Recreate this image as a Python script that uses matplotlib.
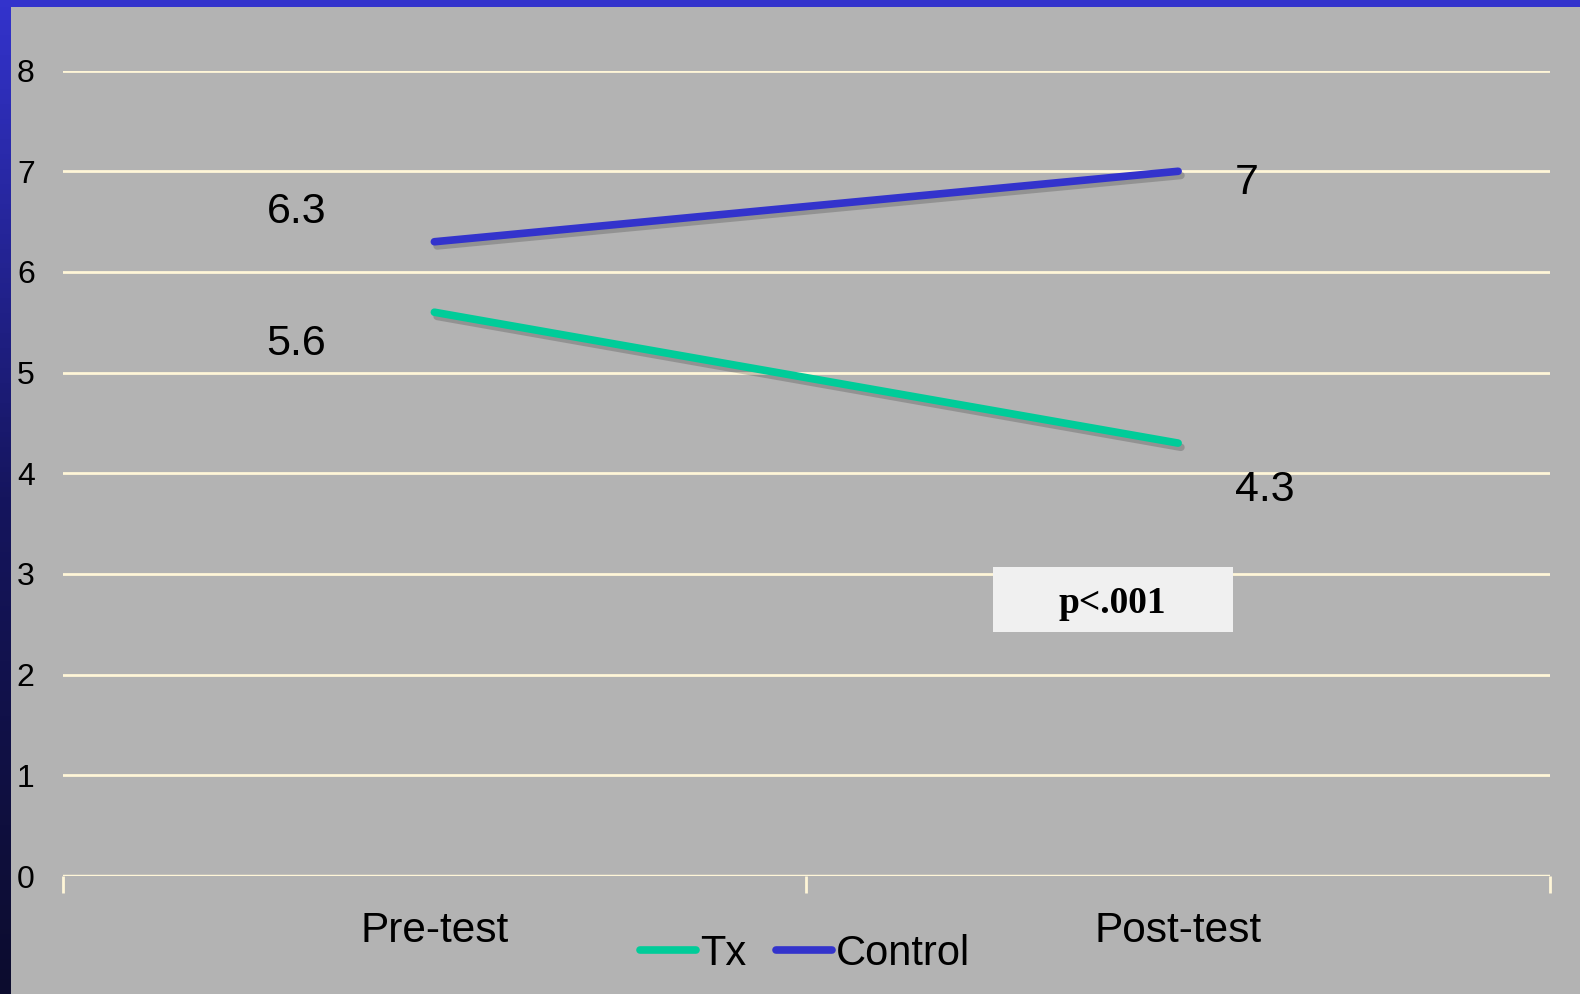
import numpy as np
import matplotlib.pyplot as plt
from matplotlib import patheffects as pe
from matplotlib.patches import Rectangle
from matplotlib.colors import LinearSegmentedColormap

plt.rcParams['font.family'] = ['Liberation Sans', 'DejaVu Sans']

categories = ['Pre-test', 'Post-test']
tx = [5.6, 4.3]
control = [6.3, 7.0]
yticks = [0, 1, 2, 3, 4, 5, 6, 7, 8]

W, H = 1580, 994
fig = plt.figure(figsize=(W / 100, H / 100), dpi=100)
fig.patch.set_facecolor('#b3b3b3')

# borde izquierdo con degradado y borde superior
bar = fig.add_axes([0, 0, 11 / W, 1])
cmap = LinearSegmentedColormap.from_list('borde', ['#0c0c2e', '#15155e', '#3333cc'])
bar.imshow(np.linspace(0, 1, 200).reshape(-1, 1), aspect='auto', cmap=cmap, origin='lower')
bar.axis('off')
top = fig.add_axes([0, 1 - 7 / H, 1, 7 / H])
top.set_facecolor('#3333cc')
top.set_xticks([])
top.set_yticks([])
for s in top.spines.values():
    s.set_visible(False)

y0, y8 = 876, 70.6
ax = fig.add_axes([62.5 / W, 1 - y0 / H, (1550 - 62.5) / W, (y0 - y8) / H])
ax.set_facecolor('#b3b3b3')
for s in ax.spines.values():
    s.set_visible(False)

crema = '#fff6d8'
for v in yticks[1:]:
    ax.axhline(v, color=crema, lw=2, zorder=1)
ax.axhline(0, color=crema, lw=2.5, zorder=1)

x = np.arange(len(categories))
sombra = [pe.SimpleLineShadow(offset=(2, -3), alpha=0.22, shadow_color='#202020'), pe.Normal()]
ax.plot(x, tx, color='#00cc99', lw=5.5, solid_capstyle='round', label='Tx', path_effects=sombra, zorder=3)
ax.plot(x, control, color='#3333cc', lw=5.5, solid_capstyle='round', label='Control', path_effects=sombra, zorder=3)

ax.set_xlim(-0.5, 1.5)
ax.set_ylim(0, 8)
ax.set_yticks(yticks)
ax.tick_params(axis='y', length=0, pad=20, labelsize=23)
ax.set_xticks(x)
ax.set_xticklabels(categories)
ax.tick_params(axis='x', length=0, pad=25, labelsize=30.5)
ax.set_xticks([-0.5, 0.5, 1.5], minor=True)
ax.tick_params(axis='x', which='minor', length=12, width=2, color=crema, direction='out')

# etiquetas de datos
etiquetas = [(0, control[0], -138, 30), (0, tx[0], -138, -32),
             (1, control[1], 69, -12), (1, tx[1], 87, -47)]
for xi, yi, dx, dy in etiquetas:
    ax.annotate(f'{yi:g}', (xi, yi), xytext=(dx, dy), textcoords='offset pixels',
                ha='center', va='center', fontsize=31)

ax.add_patch(Rectangle((0.751, 2.42), 0.323, 0.65, fc='#f0f0f0', ec='none', zorder=5))
ax.text(0.912, 2.71, 'p<.001', ha='center', va='center', fontsize=27,
        fontweight='bold', family='Liberation Serif', zorder=6)

leg = fig.legend(loc='center', bbox_to_anchor=(805 / W, 1 - 954 / H), ncol=2, frameon=False,
                 fontsize=30, handlelength=1.35, handletextpad=0.1, columnspacing=0.7)
for h in leg.get_lines():
    h.set_path_effects([])

fig.savefig('out.png', dpi=100, facecolor=fig.get_facecolor())
